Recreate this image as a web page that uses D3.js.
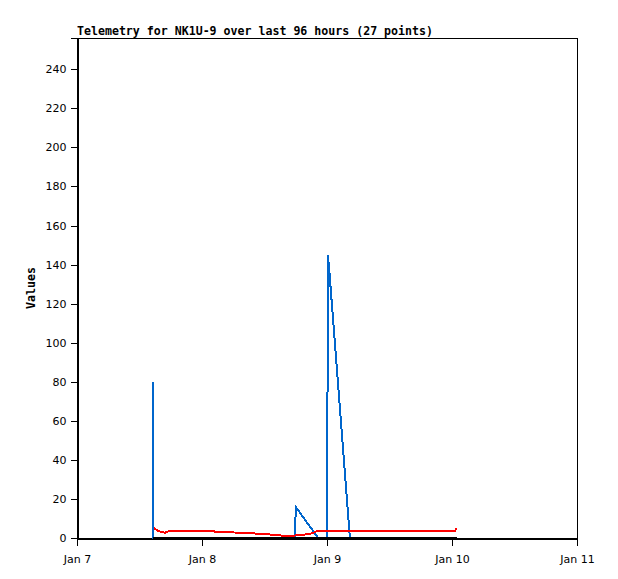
<!DOCTYPE html>
<html>
<head>
<meta charset="utf-8">
<script src="https://cdn.jsdelivr.net/npm/d3@7"></script>
<style>
  html, body { margin: 0; padding: 0; background: #fff; }
  svg { display: block; }
</style>
</head>
<body>
<script>
// Hours after Jan 7 00:00 (UTC) and values for each series
const blueHours  = [14.55, 14.65, 41.90, 41.98, 46.30, 48.05, 48.15, 48.35, 52.40, 72.90];
const blueValues = [80,    0,     0,     16,    0,     0,     145,   140,   0,     0];

const redHours  = [14.78, 15.36, 15.94, 16.90, 17.90, 26.10, 26.50, 32.30, 36.10, 39.00, 41.30, 42.40, 44.70, 46.30, 72.60, 72.90];
const redValues = [5.0,   4.0,   3.3,   2.7,   3.7,   3.7,   3.2,   2.6,   2.0,   1.3,   1.0,   1.5,   2.0,   3.7,   3.7,   5.0];

const blackHours  = [14.60, 72.90];
const blackValues = [0, 0];

const yTicks = [0, 20, 40, 60, 80, 100, 120, 140, 160, 180, 200, 220, 240];
const xTickDays = [7, 8, 9, 10, 11];
const titleText = "Telemetry for NK1U-9 over last 96 hours (27 points)";
const yLabel = "Values";

const W = 618, H = 579;
const mLeft = 77, mRight = 577, mTop = 38, mBottom = 538;
const base = Date.UTC(2024, 0, 7);
const toDate = h => new Date(base + h * 3600 * 1000);

const svg = d3.select("body").append("svg").attr("width", W).attr("height", H);

const x = d3.scaleUtc().domain([new Date(Date.UTC(2024,0,7)), new Date(Date.UTC(2024,0,11))]).range([mLeft, mRight]);
const y = d3.scaleLinear().domain([0, 256]).range([mBottom, mTop]);

// frame
svg.append("rect").attr("x", mLeft + 0.5).attr("y", mTop + 0.5)
  .attr("width", mRight - mLeft).attr("height", mBottom - mTop)
  .attr("fill", "none").attr("stroke", "#000").attr("stroke-width", 1)
  .attr("shape-rendering", "crispEdges");

// axes
const yAxis = d3.axisLeft(y).tickValues(yTicks).tickSize(7).tickPadding(4);
const gy = svg.append("g").attr("transform", `translate(${mLeft + 0.5},0)`).call(yAxis);
const xAxis = d3.axisBottom(x)
  .tickValues(xTickDays.map(d => new Date(Date.UTC(2024, 0, d))))
  .tickFormat(d3.utcFormat("%b %-d")).tickSize(7).tickPadding(5);
const gx = svg.append("g").attr("transform", `translate(0,${mBottom + 0.5})`).call(xAxis);
[gx, gy].forEach(g => {
  g.selectAll(".domain").attr("stroke", "#000").attr("shape-rendering", "crispEdges");
  g.selectAll(".tick line").attr("stroke", "#000").attr("shape-rendering", "crispEdges");
  g.selectAll("text").attr("font-family", "DejaVu Sans").attr("font-size", 11).attr("fill", "#000");
});
gx.selectAll("text").attr("dy", "1.1em");

const line = d3.line().x(d => x(toDate(d[0]))).y(d => y(d[1]));
const series = [
  { h: blueHours, v: blueValues, color: "#0066cc", w: 2 },
  { h: redHours, v: redValues, color: "#ff0000", w: 2 },
  { h: blackHours, v: blackValues, color: "#000000", w: 3 }
];
series.forEach(s => {
  svg.append("path")
    .datum(s.h.map((h, i) => [h, s.v[i]]))
    .attr("d", line)
    .attr("fill", "none")
    .attr("stroke", s.color)
    .attr("stroke-width", s.w)
    .attr("shape-rendering", "crispEdges");
});

// title
svg.append("text").attr("x", mLeft).attr("y", 35)
  .attr("font-family", "DejaVu Sans Mono").attr("font-weight", "bold")
  .attr("font-size", 11.6).attr("fill", "#000").text(titleText);

// y label
svg.append("text")
  .attr("transform", `translate(35,${(mTop + mBottom) / 2}) rotate(-90)`)
  .attr("text-anchor", "middle")
  .attr("font-family", "DejaVu Sans Mono").attr("font-weight", "bold")
  .attr("font-size", 11.6).attr("fill", "#000").text(yLabel);
</script>
</body>
</html>
